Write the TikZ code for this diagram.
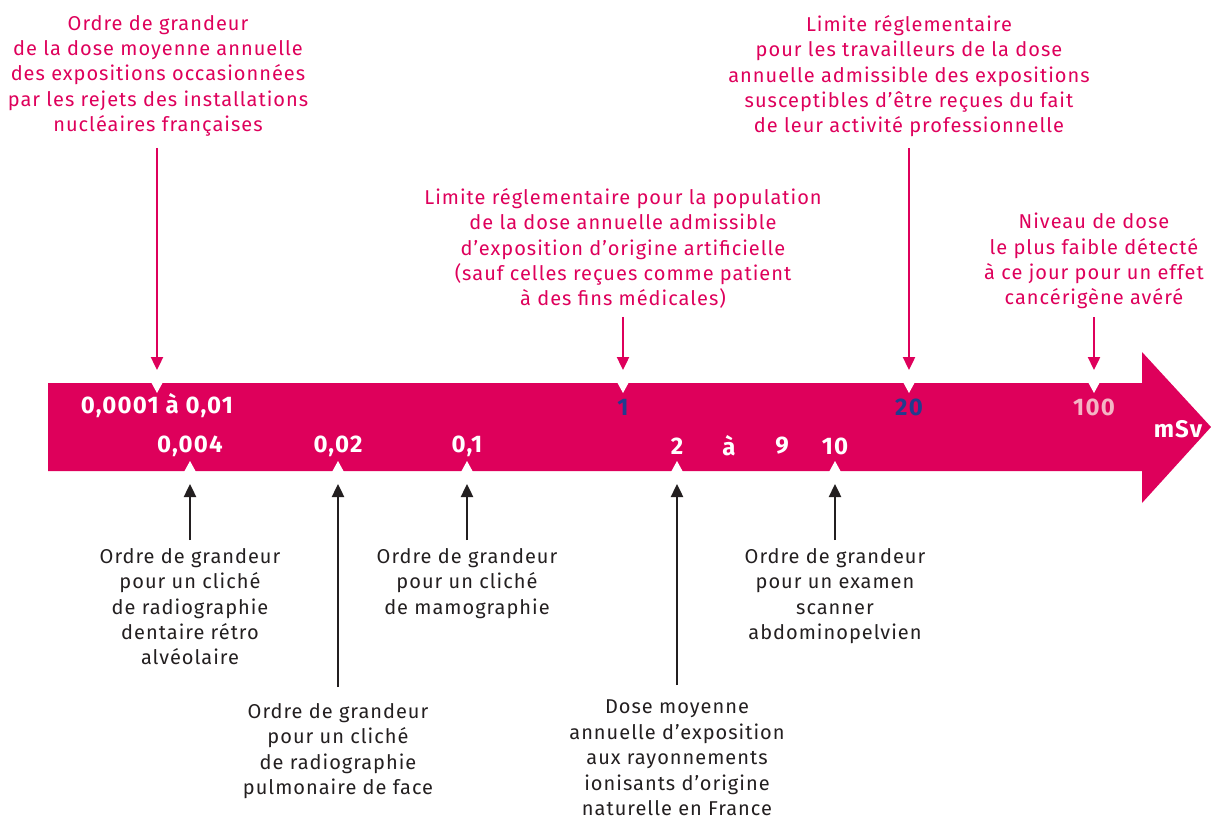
\documentclass[tikz,border=0pt]{standalone}
\usepackage{fontspec}
\setmainfont{Fira Sans}[LetterSpace=5]
\usetikzlibrary{arrows.meta}
\definecolor{magenta}{HTML}{DE005B}
\definecolor{darktxt}{HTML}{231F20}
\definecolor{bluenum}{HTML}{223C8E}
\definecolor{palenum}{HTML}{F4B4C4}
\begin{document}
\begin{tikzpicture}[
  x=1pt, y=-1pt,
  note/.style={align=center, inner sep=0pt, anchor=north,
               font=\fontsize{20}{25.4}\selectfont},
  topnote/.style={note, text=magenta},
  lownote/.style={note, text=darktxt},
  num/.style={inner sep=0pt, text=white,
              font=\fontsize{24}{25}\selectfont\bfseries},
  toparrow/.style={-{Triangle[length=13pt,width=12pt]}, line width=2.4pt, magenta},
  lowarrow/.style={-{Triangle[length=13pt,width=12pt]}, line width=2.4pt, darktxt}
]
\useasboundingbox (0,0) rectangle (1211,821);

% the scale
\fill[magenta] (48,383) -- (1142,383) -- (1142,352) -- (1211,427)
  -- (1142,503) -- (1142,471) -- (48,471) -- cycle;
\foreach \x in {157,623,909,1094}
  \fill[white] (\x-6,382) -- (\x+6,382) -- (\x,393) -- cycle;
\foreach \x in {190,338,467,677,835}
  \fill[white] (\x-6,472) -- (\x+6,472) -- (\x,461) -- cycle;

\coordinate (up1) at (157,370);
\coordinate (up2) at (623,370);
\coordinate (up3) at (909,370);
\coordinate (up4) at (1094,370);
\coordinate (dn1) at (190,484);
\coordinate (dn2) at (338,484);
\coordinate (dn3) at (467,484);
\coordinate (dn4) at (677,484);
\coordinate (dn5) at (835,484);

% values
\node[num] (v0001) at (157,406) {0,0001 à 0,01};
\node[num, text=bluenum] (v1) at (623,407) {1};
\node[num, text=bluenum] (v20) at (909,407) {20};
\node[num, text=palenum] (v100) at (1094,407) {100};
\node[num] (unit) at (1178,429) {mSv};
\node[num] (v004) at (190,446) {0,004};
\node[num] (v02) at (338,446) {0,02};
\node[num] (v1b) at (467,446) {0,1};
\node[num] (v2) at (677,446) {2};
\node[num] (va) at (729,446) {à};
\node[num] (v9) at (782,446) {9};
\node[num] (v10) at (835,446) {10};

% notes above
\node[topnote] (rejets) at (158,15) {Ordre de grandeur\\de la dose moyenne annuelle\\des expositions occasionnées\\par les rejets des installations\\nucléaires françaises};
\node[topnote] (public) at (623,188) {Limite réglementaire pour la population\\de la dose annuelle admissible\\d’exposition d'origine artificielle\\(sauf celles reçues comme patient\\à des fins médicales)};
\node[topnote] (travail) at (909,15) {Limite réglementaire\\pour les travailleurs de la dose\\annuelle admissible des expositions\\susceptibles d'être reçues du fait\\de leur activité professionnelle};
\node[topnote] (cancer) at (1094,213) {Niveau de dose\\le plus faible détecté\\à ce jour pour un effet\\cancérigène avéré};

% notes below
\node[lownote] (dentaire) at (190,548) {Ordre de grandeur\\pour un cliché\\de radiographie\\dentaire rétro\\alvéolaire};
\node[lownote] (pulmo) at (338,703) {Ordre de grandeur\\pour un cliché\\de radiographie\\pulmonaire de face};
\node[lownote] (mammo) at (467,548) {Ordre de grandeur\\pour un cliché\\de mamographie};
\node[lownote] (naturel) at (677,700) {Dose moyenne\\annuelle d'exposition\\aux rayonnements\\ionisants d’origine\\naturelle en France};
\node[lownote] (scanner) at (835,548) {Ordre de grandeur\\pour un examen\\scanner\\abdominopelvien};

\draw[toparrow, shorten <=11pt] (rejets.south -| up1) -- (up1);
\draw[toparrow, shorten <=8pt] (public.south) -- (up2);
\draw[toparrow, shorten <=11pt] (travail.south) -- (up3);
\draw[toparrow, shorten <=8pt] (cancer.south) -- (up4);
\draw[lowarrow, shorten <=8pt] (dentaire.north) -- (dn1);
\draw[lowarrow, shorten <=16pt] (pulmo.north) -- (dn2);
\draw[lowarrow, shorten <=8pt] (mammo.north) -- (dn3);
\draw[lowarrow, shorten <=15pt] (naturel.north) -- (dn4);
\draw[lowarrow, shorten <=8pt] (scanner.north) -- (dn5);
\end{tikzpicture}
\end{document}
